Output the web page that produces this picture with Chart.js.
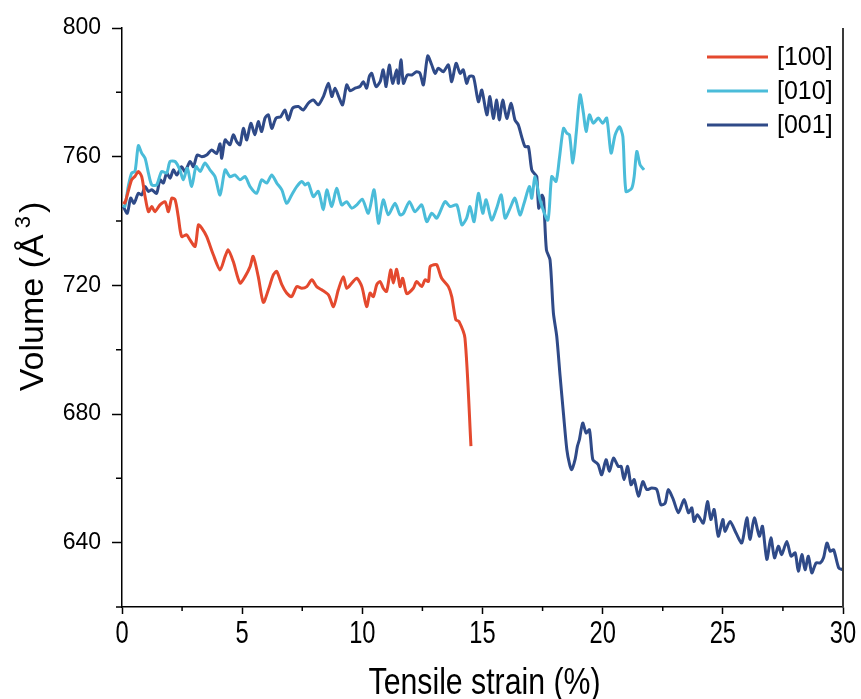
<!DOCTYPE html>
<html>
<head>
<meta charset="utf-8">
<title>Volume vs tensile strain</title>
<script src="https://cdn.jsdelivr.net/npm/chart.js@4.4.1/dist/chart.umd.min.js"></script>
<style>
    html, body { margin: 0; padding: 0; background: #fff; }
</style>
</head>
<body>
<canvas id="volumeChart" width="861" height="699"></canvas>
<script>
// ============================================
// Volume vs tensile strain — three loading directions
// ============================================

const SERIES_LABELS = ['[100]', '[010]', '[001]'];

// [100]
const strain100 = [0.05, 0.12, 0.25, 0.4, 0.55, 0.68, 0.82, 0.96, 1.1, 1.24, 1.37, 1.58, 1.79, 1.93, 2.07, 2.21, 2.34, 2.48, 2.69, 2.83,
    3.04, 3.18, 3.32, 3.52, 3.8, 4.08, 4.29, 4.42, 4.63, 4.91, 5.12, 5.33, 5.46, 5.67, 5.88, 6.09, 6.3, 6.44, 6.65, 6.85,
    7.06, 7.27, 7.48, 7.69, 7.9, 8.1, 8.31, 8.59, 8.8, 9.0, 9.21, 9.35, 9.56, 9.77, 9.98, 10.18, 10.32, 10.46, 10.6, 10.74,
    10.87, 11.01, 11.18, 11.29, 11.43, 11.57, 11.68, 11.85, 12.12, 12.26, 12.47, 12.61, 12.75, 12.82, 12.98, 13.1, 13.3, 13.58, 13.72, 13.89,
    14.02, 14.27, 14.52];
const volume100 = [746, 745.6, 749, 752.8, 754, 755.4, 753.8, 747.6, 742.9, 744.5, 742.9, 745, 746, 742.9, 747.1, 746.6, 741.4, 735.2, 735.7, 734.1,
    732.1, 738.8, 737.8, 735.2, 729.5, 724.8, 729, 731, 727.4, 720.7, 722.7, 725.8, 729, 722.7, 714.7, 718.6, 723.3, 724.3, 720.2, 717.6,
    716.5, 719.6, 719.1, 719.6, 721.7, 719.6, 718.6, 717, 713.4, 718.6, 722.7, 719.1, 720.7, 722.2, 719.6, 713.4, 717.6, 716.5, 720.2, 721.2,
    719.1, 718.1, 724.8, 720.7, 725, 719.6, 722.2, 717.4, 719.1, 721.2, 719.6, 721.7, 721.2, 725.8, 726.4, 726.4, 722.2, 719.6, 716.5, 709.3,
    708.8, 703.6, 670];

// [010]
const strain010 = [0.05, 0.12, 0.26, 0.4, 0.54, 0.68, 0.82, 0.96, 1.1, 1.24, 1.44, 1.65, 1.86, 2.0, 2.21, 2.41, 2.55, 2.72, 2.9, 3.08,
    3.25, 3.45, 3.66, 3.87, 4.08, 4.29, 4.49, 4.7, 4.91, 5.12, 5.33, 5.6, 5.81, 6.02, 6.23, 6.44, 6.65, 6.85, 7.06, 7.27,
    7.48, 7.62, 7.75, 7.96, 8.17, 8.38, 8.52, 8.73, 8.93, 9.14, 9.35, 9.56, 9.77, 10.0, 10.25, 10.49, 10.67, 10.87, 11.08, 11.36,
    11.57, 11.71, 11.96, 12.19, 12.47, 12.68, 12.89, 13.1, 13.44, 13.65, 13.93, 14.14, 14.34, 14.48, 14.65, 14.83, 15.01, 15.15, 15.38, 15.59,
    15.78, 15.94, 16.15, 16.35, 16.56, 16.73, 16.95, 17.05, 17.19, 17.39, 17.72, 17.88, 18.06, 18.2, 18.37, 18.51, 18.62, 18.76, 18.9, 19.06,
    19.2, 19.31, 19.45, 19.61, 19.82, 20.0, 20.17, 20.35, 20.52, 20.7, 20.84, 20.97, 21.21, 21.31, 21.42, 21.56, 21.72];
const volume010 = [745, 744.5, 750.7, 754.9, 755.4, 763.4, 761.1, 759.5, 754.9, 751.2, 751.2, 755.4, 754.9, 758.5, 758.5, 755.9, 752.8, 756.4, 750.7, 756.9,
    755.4, 758, 755.9, 753.8, 748.1, 755.9, 753.8, 754.3, 752.8, 753.8, 750.7, 748.6, 752.8, 751.8, 754.3, 751.8, 749.7, 745.5, 748.1, 750.7,
    752.3, 751.2, 751.8, 747.6, 749.2, 743.5, 749.7, 744.5, 750.2, 745, 746, 744, 745, 746.8, 742.4, 749.7, 739.3, 746.6, 741.9, 745.5,
    741.9, 742.4, 746, 742.9, 745, 739.8, 742.4, 740.9, 746, 744.5, 745, 738.8, 740.9, 744.5, 739.8, 748.6, 742.4, 746.6, 740.3, 744,
    748.1, 740.9, 744, 747.1, 741.9, 745.5, 750.7, 747.1, 753.8, 746.6, 740.3, 753.8, 752.3, 759.5, 768.8, 767.3, 766.8, 758, 767.3, 779.2,
    773.5, 767.8, 773, 770.4, 772, 770.4, 772, 761.1, 766.8, 769.3, 766.2, 749.2, 750.2, 753.8, 761.6, 757.4, 755.9];

// [001]
const strain001 = [0.05, 0.22, 0.36, 0.5, 0.68, 0.82, 0.96, 1.1, 1.24, 1.44, 1.58, 1.72, 1.86, 2.0, 2.14, 2.28, 2.48, 2.62, 2.83, 2.97,
    3.13, 3.32, 3.52, 3.73, 3.94, 4.08, 4.15, 4.29, 4.49, 4.63, 4.77, 4.91, 5.05, 5.19, 5.36, 5.53, 5.67, 5.81, 5.95, 6.09,
    6.23, 6.41, 6.6, 6.78, 6.92, 7.1, 7.34, 7.54, 7.75, 7.96, 8.17, 8.38, 8.59, 8.73, 8.86, 9.04, 9.18, 9.35, 9.49, 9.7,
    9.9, 10.04, 10.18, 10.29, 10.39, 10.57, 10.74, 10.87, 10.99, 11.12, 11.26, 11.43, 11.5, 11.61, 11.71, 11.87, 12.06, 12.26, 12.4, 12.54,
    12.72, 12.89, 13.03, 13.16, 13.37, 13.58, 13.72, 13.9, 14.07, 14.2, 14.34, 14.45, 14.62, 14.83, 14.97, 15.18, 15.31, 15.45, 15.59, 15.7,
    15.84, 16.01, 16.19, 16.35, 16.49, 16.63, 16.77, 16.91, 17.05, 17.19, 17.26, 17.34, 17.47, 17.54, 17.66, 17.81, 17.95, 18.09, 18.23, 18.37,
    18.51, 18.62, 18.71, 18.85, 18.95, 19.03, 19.17, 19.31, 19.45, 19.59, 19.75, 19.82, 19.96, 20.14, 20.28, 20.45, 20.65, 20.77, 20.89, 21.04,
    21.18, 21.31, 21.49, 21.67, 21.84, 22.04, 22.25, 22.42, 22.6, 22.73, 22.94, 23.15, 23.39, 23.57, 23.71, 23.8, 23.94, 24.19, 24.36, 24.5,
    24.64, 24.81, 25.0, 25.09, 25.3, 25.55, 25.79, 26.0, 26.13, 26.31, 26.52, 26.65, 26.83, 27.0, 27.15, 27.31, 27.45, 27.66, 27.84, 28.01,
    28.14, 28.29, 28.42, 28.56, 28.7, 28.88, 29.05, 29.19, 29.33, 29.47, 29.61, 29.82, 29.99];
const volume001 = [744.5, 742.4, 747.1, 745.5, 748.6, 748.1, 750.7, 749.2, 749.7, 748.6, 752.8, 751.8, 754.9, 753.3, 755.9, 754.3, 756.9, 755.4, 758.5, 756.9,
    760.5, 760, 760.5, 762.1, 761, 764, 759.5, 765.2, 763.7, 766.8, 764.7, 763.7, 768.8, 765.2, 770.4, 766.8, 770.9, 767.8, 772, 773,
    768.8, 772, 772.4, 774.5, 771.4, 775.1, 775.6, 774.5, 776.6, 777.6, 776.1, 778.7, 782.8, 778.7, 781.3, 778.2, 776.1, 782.3, 780.5, 781.3,
    781.8, 783.3, 781.3, 784.9, 785.9, 781.8, 783.3, 787, 781.8, 788.5, 782.8, 787, 782.8, 790.1, 782.8, 785.4, 785.4, 786.4, 785.9, 782.3,
    791.3, 788.5, 785.9, 787.5, 786.4, 788.5, 783.3, 789, 785.9, 787, 782.8, 784.9, 784.9, 777.1, 780.7, 773, 778.7, 771.9, 777.6, 771.4,
    777.6, 771.9, 776.6, 771.4, 769.9, 766.2, 763.1, 763.1, 755.9, 754.5, 753.8, 744, 748, 747, 731, 727.9, 711.4, 704.1, 691.7, 680,
    668.9, 664.5, 662.7, 665.8, 670, 672, 677.2, 674.1, 675.1, 665.8, 664.8, 664.2, 661.1, 665.8, 662.2, 666.3, 663.7, 663.7, 659.6, 663.7,
    658, 659.6, 654.4, 659, 656.5, 657, 656.5, 651.8, 652.3, 656.5, 653.4, 649.3, 653.4, 649.3, 650.8, 646.6, 648.7, 646.1, 652.8, 647.2,
    650.3, 642, 647.2, 643.5, 646.6, 643, 639.9, 647.7, 641, 647.7, 642, 645.1, 634.8, 641.5, 635.3, 638.9, 636.3, 640.4, 635.8, 636.8,
    631.1, 636.3, 631.6, 635.8, 630.6, 633.7, 633.7, 635.3, 639.9, 637.3, 637.8, 632.2, 631.6];

const X_MAJOR_TICKS = [0, 5, 10, 15, 20, 25, 30];
const X_MINOR_TICKS = [2.5, 7.5, 12.5, 17.5, 22.5, 27.5];
const Y_MINOR_TICKS = [620, 660, 700, 740, 780];

const COLORS = ['#E4492E', '#4ABCD9', '#2F4A88'];

const FONT = "'Liberation Sans', Arial, sans-serif";

function toPoints(xs, ys) {
    return xs.map((x, i) => ({ x, y: ys[i] }));
}

// squeezed text, stands in for the narrow face of the original
function drawNarrowText(ctx, text, cx, cy, size, squeeze) {
    ctx.save();
    ctx.translate(cx, cy);
    ctx.scale(squeeze, 1);
    ctx.font = size + 'px ' + FONT;
    ctx.textAlign = 'center';
    ctx.textBaseline = 'middle';
    ctx.fillText(text, 0, 0);
    ctx.restore();
}

function drawYTitle(ctx, cx, cy) {
    const main = '34px ' + FONT, sup = '22px ' + FONT;
    ctx.save();
    ctx.translate(cx, cy);
    ctx.rotate(-Math.PI / 2);
    ctx.textBaseline = 'alphabetic';
    ctx.textAlign = 'left';
    ctx.font = main;
    const w1 = ctx.measureText('Volume (Å').width;
    const w3 = ctx.measureText(')').width;
    ctx.font = sup;
    const w2 = ctx.measureText('3').width;
    const gapA = 6, gapB = 3;
    let x0 = -(w1 + gapA + w2 + gapB + w3) / 2;
    const base = 12;
    ctx.font = main;
    ctx.fillText('Volume (Å', x0, base);
    x0 += w1 + gapA;
    ctx.font = sup;
    ctx.fillText('3', x0, base - 13);
    x0 += w2 + gapB;
    ctx.font = main;
    ctx.fillText(')', x0, base);
    ctx.restore();
}

// minor ticks, right frame line, axis texts and the in-plot legend
const framePlugin = {
    id: 'frame',
    afterDraw(chart) {
        const { ctx, chartArea: a, scales: { x, y } } = chart;
        ctx.save();
        ctx.strokeStyle = '#000';
        ctx.lineWidth = 1.5;
        ctx.beginPath();
        X_MINOR_TICKS.forEach(v => {
            const px = x.getPixelForValue(v);
            ctx.moveTo(px, a.bottom);
            ctx.lineTo(px, a.bottom + 4);
        });
        Y_MINOR_TICKS.forEach(v => {
            const py = y.getPixelForValue(v);
            ctx.moveTo(a.left, py);
            ctx.lineTo(a.left - 6, py);
        });
        ctx.stroke();

        ctx.strokeStyle = '#3a3a3a';
        ctx.lineWidth = 2;
        ctx.beginPath();
        ctx.moveTo(a.right, a.top);
        ctx.lineTo(a.right, a.bottom + 0.5);
        ctx.stroke();

        ctx.fillStyle = '#000';
        X_MAJOR_TICKS.forEach(v => {
            drawNarrowText(ctx, String(v), x.getPixelForValue(v), a.bottom + 27, 32, 0.74);
        });
        drawNarrowText(ctx, 'Tensile strain (%)', (a.left + a.right) / 2 + 2, a.bottom + 77, 36, 0.84);
        drawYTitle(ctx, 31, (a.top + a.bottom) / 2 - 21);

        const lx = a.right - 136;
        const ly = a.top + 29;
        ctx.font = '25px ' + FONT;
        ctx.textBaseline = 'middle';
        ctx.textAlign = 'left';
        SERIES_LABELS.forEach((label, i) => {
            const yy = ly + i * 34;
            ctx.strokeStyle = COLORS[i];
            ctx.lineWidth = 3;
            ctx.beginPath();
            ctx.moveTo(lx, yy);
            ctx.lineTo(lx + 61, yy);
            ctx.stroke();
            ctx.fillText(label, lx + 70, yy + 1);
        });
        ctx.restore();
    }
};

const seriesData = [
    toPoints(strain100, volume100),
    toPoints(strain010, volume010),
    toPoints(strain001, volume001),
];

new Chart(document.getElementById('volumeChart'), {
    type: 'scatter',
    data: {
        datasets: seriesData.map((pts, i) => ({
            label: SERIES_LABELS[i], data: pts,
            showLine: true, borderColor: COLORS[i], backgroundColor: COLORS[i],
            borderWidth: 3, pointRadius: 0, tension: 0.25, borderJoinStyle: 'round',
        }))
    },
    options: {
        responsive: false, animation: false,
        layout: { padding: { top: 28, right: 18, left: 0, bottom: 0 } },
        plugins: { legend: { display: false }, tooltip: { enabled: false } },
        scales: {
            x: {
                type: 'linear', min: 0, max: 30,
                ticks: { stepSize: 5, display: false },
                grid: { drawOnChartArea: false, tickLength: 7, tickColor: '#000', tickWidth: 1.5 },
                border: { display: true, color: '#000', width: 1.5 },
                afterFit: s => { s.height = 92; }
            },
            y: {
                min: 620, max: 800,
                ticks: { stepSize: 40, color: '#000', padding: 11, font: { family: FONT, size: 23 },
                    callback: v => (v % 40 === 0 ? v : '') },
                grid: { drawOnChartArea: false, tickLength: 10, tickWidth: 1.5,
                    tickColor: c => (c.tick && c.tick.value % 40 === 0 ? '#000' : 'rgba(0,0,0,0)') },
                border: { display: true, color: '#000', width: 1.5 },
                afterFit: s => { s.width = 122; }
            }
        }
    },
    plugins: [framePlugin]
});
</script>
</body>
</html>
